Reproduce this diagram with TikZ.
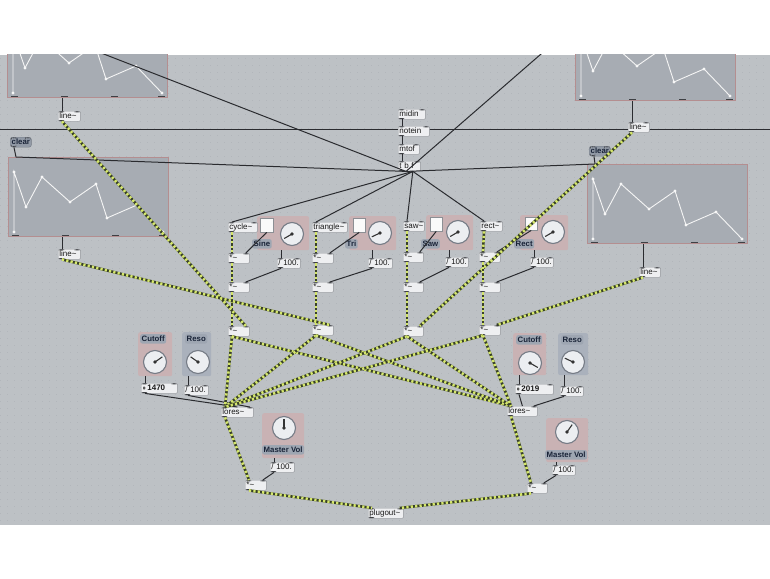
\documentclass[tikz,border=0pt]{standalone}
\usepackage{fontspec}
\setmainfont{Liberation Sans}
\usetikzlibrary{calc}

\definecolor{canvas}{RGB}{189,193,197}
\definecolor{gridc}{RGB}{178,182,187}
\definecolor{fnfill}{RGB}{167,172,179}
\definecolor{fnedge}{RGB}{180,142,144}
\definecolor{objfill}{RGB}{238,239,241}
\definecolor{objedge}{RGB}{140,143,148}
\definecolor{tabc}{RGB}{62,64,68}
\definecolor{msgfill}{RGB}{146,154,166}
\definecolor{lblfill}{RGB}{158,166,178}
\definecolor{lbltext}{RGB}{25,35,55}
\definecolor{pinkpan}{RGB}{201,178,180}
\definecolor{bluepan}{RGB}{170,177,188}
\definecolor{cordc}{RGB}{42,43,47}
\definecolor{sigyel}{RGB}{212,230,108}
\definecolor{sigdark}{RGB}{56,64,40}
\definecolor{dialfill}{RGB}{236,238,241}
\definecolor{dialedge}{RGB}{118,124,134}

\newcommand{\objfont}{\fontsize{8}{9}\selectfont}
\newcommand{\lblfont}{\fontsize{7.8}{9}\selectfont\bfseries}
% inlet / outlet tabs of a box
\newcommand{\maxtabs}{%
  \fill[tabc] ([xshift=1pt]path picture bounding box.north west) rectangle ++(5pt,-1.2pt);
  \fill[tabc] ([xshift=-1pt]path picture bounding box.north east) rectangle ++(-5pt,-1.2pt);
  \fill[tabc] ([xshift=1pt]path picture bounding box.south west) rectangle ++(5pt,1.2pt);}
% breakpoint curve, same in all four editors
\newcommand{\envcurve}[1]{%
  \begin{scope}[shift={(#1.north west)}]
    \draw[fnline] (6,75) -- (6,15) -- (18,50) -- (34,20) -- (62,45) -- (88,27) -- (99,61) -- (129,48) -- (155,75);
    \foreach \px/\py in {6/75,6/15,18/50,34/20,62/45,88/27,99/61,129/48,155/75}
      \fill[white!94!gray] (\px,\py) circle (1.7pt);
  \end{scope}}
\newcommand{\dialneedle}[2]{%
  \draw[needle] (#1.center) -- ++(#2:9pt);
  \fill[black!80] (#1.center) circle (1.8pt);}

\tikzset{
    %Define style for max objects
    obj/.style={draw=objedge, fill=objfill, line width=0.4pt, rounded corners=1.2pt, anchor=north west,
        inner xsep=1.2pt, inner ysep=1.3pt, text height=5.8pt, text depth=1.6pt, font=\objfont,
        text=black!90, align=left, path picture={\maxtabs}},
    bw/.style={text width=#1},
    numbox/.style={obj, font=\objfont\bfseries, path picture={\maxtabs
        \fill[black!65] ([xshift=2pt,yshift=-2.5pt]path picture bounding box.north west)
            -- ++(3pt,-2.3pt) -- ++(-3pt,-2.3pt) -- cycle;}},
    msg/.style={fill=msgfill, draw=msgfill!80!black, line width=0.4pt, rounded corners=2.5pt,
        anchor=north west, inner xsep=1.5pt, inner ysep=1.3pt, text height=5.8pt, text depth=1.6pt,
        font=\lblfont, text=lbltext, path picture={\maxtabs}},
    lbl/.style={fill=lblfill, rounded corners=2pt, anchor=north west, inner xsep=1.5pt,
        inner ysep=1pt, text height=5.8pt, text depth=1.5pt, font=\lblfont, text=lbltext},
    pan/.style={fill=pinkpan, rounded corners=2pt, anchor=north west, inner sep=0pt},
    panblue/.style={pan, fill=bluepan},
    tog/.style={draw=objedge, fill=white!96!gray, line width=0.4pt, anchor=north west,
        inner sep=0pt, minimum width=12pt, minimum height=14pt},
    dialc/.style={circle, draw=dialedge, line width=1.1pt, fill=dialfill, minimum size=23pt, inner sep=0pt},
    needle/.style={draw=black!80, line width=1.1pt},
    fgraph/.style={draw=fnedge, line width=1.3pt, fill=fnfill, anchor=north west, inner sep=0pt,
        minimum width=160pt, minimum height=79pt, path picture={
        \foreach \t in {3pt,53pt,103pt,150pt}
          \fill[tabc] ([xshift=\t]path picture bounding box.south west) rectangle ++(7pt,1.6pt);}},
    fnline/.style={draw=white!92!gray, line width=0.9pt},
    cord/.style={draw=cordc, line width=1pt},
    sig/.style={preaction={draw=sigdark, line width=2.6pt}, draw=sigyel, line width=2.6pt,
        dash pattern=on 2.2pt off 2.2pt},
    gridline/.style={draw=gridc, line width=0.7pt, dash pattern=on 0.7pt off 6.3pt},
}

\begin{document}
\begin{tikzpicture}[x=1pt, y=-1pt]
    \useasboundingbox (0,0) rectangle (770,578);
    \fill[white] (0,0) rectangle (770,578);
    \begin{scope}
    \clip (0,55) rectangle (770,525);
    \fill[canvas] (0,55) rectangle (770,525);
    \foreach \gy in {58,65,...,525}
        \draw[gridline] (0,\gy) -- (770,\gy);

    \coordinate (hl0) at (-5,129);
    \coordinate (hl1) at (775,129);
    \draw[cord] (hl0) -- (hl1);

    % function editors
    \node[fgraph](fnA) at (7,18) {};
    \node[fgraph](fnB) at (8,157) {};
    \node[fgraph](fnC) at (575,21) {};
    \node[fgraph](fnD) at (587,164) {};
    \envcurve{fnA}
    \envcurve{fnB}
    \envcurve{fnC}
    \envcurve{fnD}

    \node[obj, bw=20pt](lnA) at (58,111) {line\textasciitilde};
    \node[obj, bw=20pt](lnB) at (58,249) {line\textasciitilde};
    \node[obj, bw=19pt](lnC) at (628,122) {line\textasciitilde};
    \node[obj, bw=19pt](lnD) at (639,267) {line\textasciitilde};
    \node[msg](clrA) at (10,137) {clear};
    \node[msg](clrD) at (589,146) {clear};

    % midi input
    \node[obj, bw=25pt](midin) at (398,109) {midin};
    \node[obj, bw=29pt](notein) at (398,126) {notein};
    \node[obj, bw=19pt](mtof) at (398,144) {mtof};
    \node[obj, bw=20pt](tbf) at (398,161) {t b f};

    % oscillators
    \node[pan, minimum width=52pt, minimum height=34pt](panA) at (257,216) {};
    \node[pan, minimum width=47pt, minimum height=34pt](panB) at (349,216) {};
    \node[pan, minimum width=47pt, minimum height=35pt](panC) at (426,215) {};
    \node[pan, minimum width=48pt, minimum height=35pt](panD) at (520,215) {};

    \node[obj, bw=27pt](cyc) at (228,222) {cycle\textasciitilde};
    \node[obj, bw=33pt](tri) at (312,222) {triangle\textasciitilde};
    \node[obj, bw=19pt](saw) at (403,221) {saw\textasciitilde};
    \node[obj, bw=20pt](rect) at (480,221) {rect\textasciitilde};

    \node[tog, minimum width=13pt](tgA) at (260,218) {};
    \node[tog](tgB) at (353,218) {};
    \node[tog](tgC) at (430,217) {};
    \node[tog, minimum height=13pt](tgD) at (525,217) {};

    \node[dialc](dlA) at (292,234) {};
    \node[dialc](dlB) at (380,233) {};
    \node[dialc](dlC) at (458,232) {};
    \node[dialc](dlD) at (553,232) {};
    \dialneedle{dlA}{210}
    \dialneedle{dlB}{205}
    \dialneedle{dlC}{210}
    \dialneedle{dlD}{210}

    \node[lbl](lbSine) at (252,239) {Sine};
    \node[lbl](lbTri) at (345,239) {Tri};
    \node[lbl](lbSaw) at (421,239) {Saw};
    \node[lbl](lbRect) at (514,239) {Rect};

    \node[obj, bw=21pt](dvA) at (277,258) {/ 100.};
    \node[obj, bw=22pt](dvB) at (368,258) {/ 100.};
    \node[obj, bw=21pt](dvC) at (445,257) {/ 100.};
    \node[obj, bw=21pt](dvD) at (530,257) {/ 100.};

    \node[obj, bw=19pt](mA1) at (228,253) {*\textasciitilde};
    \node[obj, bw=19pt](mA2) at (228,282) {*\textasciitilde};
    \node[obj, bw=19pt](mA3) at (228,326) {*\textasciitilde};
    \node[obj, bw=19pt](mB1) at (312,253) {*\textasciitilde};
    \node[obj, bw=19pt](mB2) at (312,282) {*\textasciitilde};
    \node[obj, bw=19pt](mB3) at (312,325) {*\textasciitilde};
    \node[obj, bw=18pt](mC1) at (403,252) {*\textasciitilde};
    \node[obj, bw=18pt](mC2) at (403,282) {*\textasciitilde};
    \node[obj, bw=18pt](mC3) at (403,326) {*\textasciitilde};
    \node[obj, bw=19pt](mD1) at (479,252) {*\textasciitilde};
    \node[obj, bw=19pt](mD2) at (479,282) {*\textasciitilde};
    \node[obj, bw=19pt](mD3) at (479,325) {*\textasciitilde};

    % filters, left
    \node[pan, minimum width=34pt, minimum height=44pt](panCA) at (138,332) {};
    \node[panblue, minimum width=29pt, minimum height=44pt](panRA) at (182,332) {};
    \node[pan, minimum width=42pt, minimum height=45pt](panMA) at (262,413) {};
    \node[dialc](dlCA) at (155,362) {};
    \node[dialc](dlRA) at (198,362) {};
    \node[dialc](dlMA) at (284,428) {};
    \dialneedle{dlCA}{35}
    \dialneedle{dlRA}{145}
    \dialneedle{dlMA}{90}
    \node[lbl](lbCA) at (140,334) {Cutoff};
    \node[lbl](lbRA) at (185,334) {Reso};
    \node[lbl](lbMA) at (262,445) {Master Vol};
    \node[numbox, bw=34pt](numA) at (141,383) {\hspace*{5pt}1470};
    \node[obj, bw=22pt](dvRA) at (184,385) {/ 100.};
    \node[obj, bw=30pt](loresA) at (221,407) {lores\textasciitilde};
    \node[obj, bw=22pt](dvMA) at (270,462) {/ 100.};
    \node[obj, bw=19pt](mulA) at (245,480) {*\textasciitilde};

    % filters, right
    \node[pan, minimum width=33pt, minimum height=42pt](panCB) at (513,333) {};
    \node[panblue, minimum width=30pt, minimum height=42pt](panRB) at (558,333) {};
    \node[pan, minimum width=42pt, minimum height=44pt](panMB) at (546,418) {};
    \node[dialc](dlCB) at (530,363) {};
    \node[dialc](dlRB) at (573,362) {};
    \node[dialc](dlMB) at (567,432) {};
    \dialneedle{dlCB}{-30}
    \dialneedle{dlRB}{155}
    \dialneedle{dlMB}{55}
    \node[lbl](lbCB) at (516,335) {Cutoff};
    \node[lbl](lbRB) at (561,335) {Reso};
    \node[lbl](lbMB) at (545,450) {Master Vol};
    \node[numbox, bw=36pt](numB) at (515,384) {\hspace*{5pt}2019};
    \node[obj, bw=21pt](dvRB) at (560,386) {/ 100.};
    \node[obj, bw=28pt](loresB) at (507,406) {lores\textasciitilde};
    \node[obj, bw=21pt](dvMB) at (552,465) {/ 100.};
    \node[obj, bw=18pt](mulB) at (527,483) {*\textasciitilde};

    \node[obj, bw=33pt](plug) at (368,508) {plugout\textasciitilde};

    % control cords
    \draw[cord] ([xshift=4pt]midin.south west) -- ([xshift=4pt]notein.north west);
    \draw[cord] ([xshift=4pt]notein.south west) -- ([xshift=4pt]mtof.north west);
    \draw[cord] ([xshift=4pt]mtof.south west) -- ([xshift=4pt]tbf.north west);
    \draw[cord] ([xshift=8pt]tbf.south west) -- ([xshift=4pt]fnA.north west);
    \draw[cord] ([xshift=8pt]tbf.south west) -- ([xshift=8pt]fnB.north west);
    \draw[cord] ([xshift=8pt]tbf.south west) -- ([xshift=4pt]fnC.north west);
    \draw[cord] ([xshift=8pt]tbf.south west) -- ([xshift=8pt]fnD.north west);
    \draw[cord] ([xshift=4pt]clrA.south west) -- ([xshift=8pt]fnB.north west);
    \draw[cord] ([xshift=5pt]clrD.south west) -- ([xshift=8pt]fnD.north west);
    \foreach \osc in {cyc,tri,saw,rect}
        \draw[cord] ([xshift=-8pt]tbf.south east) -- ([xshift=4pt]\osc.north west);
    \draw[cord] ([xshift=4pt]lnA.north west) -- ([xshift=4pt]lnA.north west |- fnA.south);
    \draw[cord] ([xshift=4pt]lnB.north west) -- ([xshift=4pt]lnB.north west |- fnB.south);
    \draw[cord] ([xshift=4pt]lnC.north west) -- ([xshift=4pt]lnC.north west |- fnC.south);
    \draw[cord] ([xshift=4pt]lnD.north west) -- ([xshift=4pt]lnD.north west |- fnD.south);

    \foreach \c in {A,B,C,D}{
        \draw[cord] (tg\c.south) -- ([xshift=-4pt]m\c1.north east);
        \draw[cord] ([xshift=4pt]dv\c.north west) -- ([xshift=4pt]dv\c.north west |- pan\c.south);
        \draw[cord] ([xshift=4pt]dv\c.south west) -- ([xshift=-4pt]m\c2.north east);
    }

    \draw[cord] ([xshift=4pt]numA.north west) -- ([xshift=4pt]numA.north west |- panCA.south);
    \draw[cord] ([xshift=4pt]dvRA.north west) -- ([xshift=4pt]dvRA.north west |- panRA.south);
    \draw[cord] ([xshift=4pt]dvMA.north west) -- ([xshift=4pt]dvMA.north west |- panMA.south);
    \draw[cord] ([xshift=4pt]numA.south west) -- (loresA.north);
    \draw[cord] ([xshift=4pt]dvRA.south west) -- ([xshift=-4pt]loresA.north east);
    \draw[cord] ([xshift=4pt]dvMA.south west) -- ([xshift=-4pt]mulA.north east);

    \draw[cord] ([xshift=4pt]numB.north west) -- ([xshift=4pt]numB.north west |- panCB.south);
    \draw[cord] ([xshift=4pt]dvRB.north west) -- ([xshift=4pt]dvRB.north west |- panRB.south);
    \draw[cord] ([xshift=4pt]dvMB.north west) -- ([xshift=4pt]dvMB.north west |- panMB.south);
    \draw[cord] ([xshift=4pt]numB.south west) -- (loresB.north);
    \draw[cord] ([xshift=4pt]dvRB.south west) -- ([xshift=-4pt]loresB.north east);
    \draw[cord] ([xshift=4pt]dvMB.south west) -- ([xshift=-4pt]mulB.north east);

    % signal cords
    \draw[sig] ([xshift=4pt]cyc.south west) -- ([xshift=4pt]mA1.north west);
    \draw[sig] ([xshift=4pt]tri.south west) -- ([xshift=4pt]mB1.north west);
    \draw[sig] ([xshift=4pt]saw.south west) -- ([xshift=4pt]mC1.north west);
    \draw[sig] ([xshift=4pt]rect.south west) -- ([xshift=4pt]mD1.north west);
    \foreach \c in {A,B,C,D}{
        \draw[sig] ([xshift=4pt]m\c1.south west) -- ([xshift=4pt]m\c2.north west);
        \draw[sig] ([xshift=4pt]m\c2.south west) -- ([xshift=4pt]m\c3.north west);
        \draw[sig] ([xshift=4pt]m\c3.south west) -- ([xshift=4pt]loresA.north west);
        \draw[sig] ([xshift=4pt]m\c3.south west) -- ([xshift=4pt]loresB.north west);
        \draw[sig] ([xshift=4pt]ln\c.south west) -- ([xshift=-4pt]m\c3.north east);
    }
    \draw[sig] ([xshift=4pt]loresA.south west) -- ([xshift=4pt]mulA.north west);
    \draw[sig] ([xshift=4pt]loresB.south west) -- ([xshift=4pt]mulB.north west);
    \draw[sig] ([xshift=4pt]mulA.south west) -- ([xshift=4pt]plug.north west);
    \draw[sig] ([xshift=4pt]mulB.south west) -- ([xshift=-4pt]plug.north east);
    \end{scope}
\end{tikzpicture}
\end{document}
